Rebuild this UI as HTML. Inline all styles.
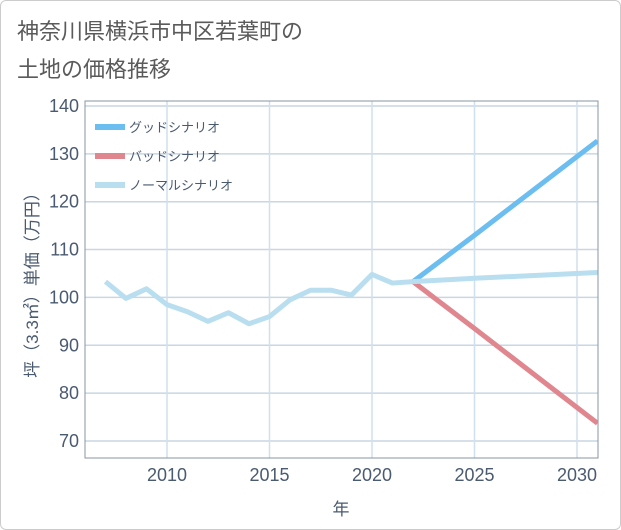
<!DOCTYPE html>
<html><head><meta charset="utf-8"><style>
body{margin:0;background:#fff;}
#wrap{position:relative;width:619px;height:528px;border:1px solid #ccc;border-radius:6px;overflow:hidden;font-family:"Liberation Sans","Noto Sans CJK JP",sans-serif;}
#title{position:absolute;left:16px;top:12px;font-size:22px;line-height:38px;color:#5a5a5a;}
svg{position:absolute;left:0;top:0;}
text{font-family:"Liberation Sans","Noto Sans CJK JP",sans-serif;fill:#4a5a70;}
</style></head><body>
<div id="wrap">
<div id="title">神奈川県横浜市中区若葉町の<br>土地の価格推移</div>
<svg id="chart" width="621" height="530"></svg>
</div>
<script>
const years=[2007,2008,2009,2010,2011,2012,2013,2014,2015,2016,2017,2018,2019,2020,2021,2022];
const normalHist=[103.3,99.8,101.8,98.5,97,95,96.8,94.5,96,99.5,101.5,101.5,100.5,104.8,103,103.3];
const futYears=[2022,2025,2031];
const good=[103.3,113,132.7];
const bad=[103.3,93.5,73.7];
const normalFut=[103.3,104,105.2];
const yTicks=[70,80,90,100,110,120,130,140];
const xTicks=[2010,2015,2020,2025,2030];
const L=84,R=597,T=100,B=457;
const xs=y=>166+(y-2010)*20.5;
const ys=v=>440-(v-70)*4.786;
const svg=document.getElementById('chart');
const NS='http://www.w3.org/2000/svg';
function mk(t,a){const e=document.createElementNS(NS,t);for(const k in a)e.setAttribute(k,a[k]);svg.appendChild(e);return e;}
yTicks.forEach(v=>{
 const l=mk('line',{x1:L,x2:R,y1:ys(v),y2:ys(v),stroke:'#c9d6e3','stroke-width':1.5});
 
 
 const t=mk('text',{x:L-6,y:ys(v)+6,'text-anchor':'end','font-size':18});
 t.textContent=v;
 
 
});
xTicks.forEach(v=>{
 const l=mk('line',{x1:xs(v),x2:xs(v),y1:T,y2:B,stroke:'#cfe0ee','stroke-width':1.5});
 
 
 const t=mk('text',{x:xs(v),y:B+23,'text-anchor':'middle','font-size':18});
 t.textContent=v;
 
 
});
const fr=mk('rect',{x:L,y:T,width:R-L,height:B-T,fill:'none',stroke:'#8a95a3','stroke-width':1});


const cp=mk('clipPath',{id:'cp'});cp.appendChild(document.createElementNS(NS,'rect'));
cp.firstChild.setAttribute('x',L);cp.firstChild.setAttribute('y',T);cp.firstChild.setAttribute('width',R-L);cp.firstChild.setAttribute('height',B-T);
function line(xsArr,vals,color,name){
 const p=mk('polyline',{points:xsArr.map((y,i)=>xs(y)+','+ys(vals[i])).join(' '),fill:'none',stroke:color,'stroke-width':5,'stroke-linejoin':'round','clip-path':'url(#cp)'});
 
 
}
line(futYears,bad,'#e0868f','bad-scenario-line');
line(futYears,good,'#6cbdf0','good-scenario-line');
line(years,normalHist,'#b9def0','normal-history-line');
line(futYears,normalFut,'#b9def0','normal-scenario-line');
const leg=[['グッドシナリオ','#6cbdf0'],['バッドシナリオ','#e0868f'],['ノーマルシナリオ','#b9def0']];
leg.forEach((d,i)=>{
 const y=126+i*29;
 const l=mk('line',{x1:94,x2:124,y1:y,y2:y,stroke:d[1],'stroke-width':6});
 
 
 const t=mk('text',{x:128,y:y+5,'font-size':13});
 t.textContent=d[0];
 
 
});
const xt=mk('text',{x:340,y:514,'text-anchor':'middle','font-size':17});
xt.textContent='年';


const yt=mk('text',{x:0,y:0,'text-anchor':'middle','font-size':17,transform:'translate(37,280) rotate(-90)'});
yt.textContent='坪（3.3㎡）単価（万円）';


</script>
</body></html>
